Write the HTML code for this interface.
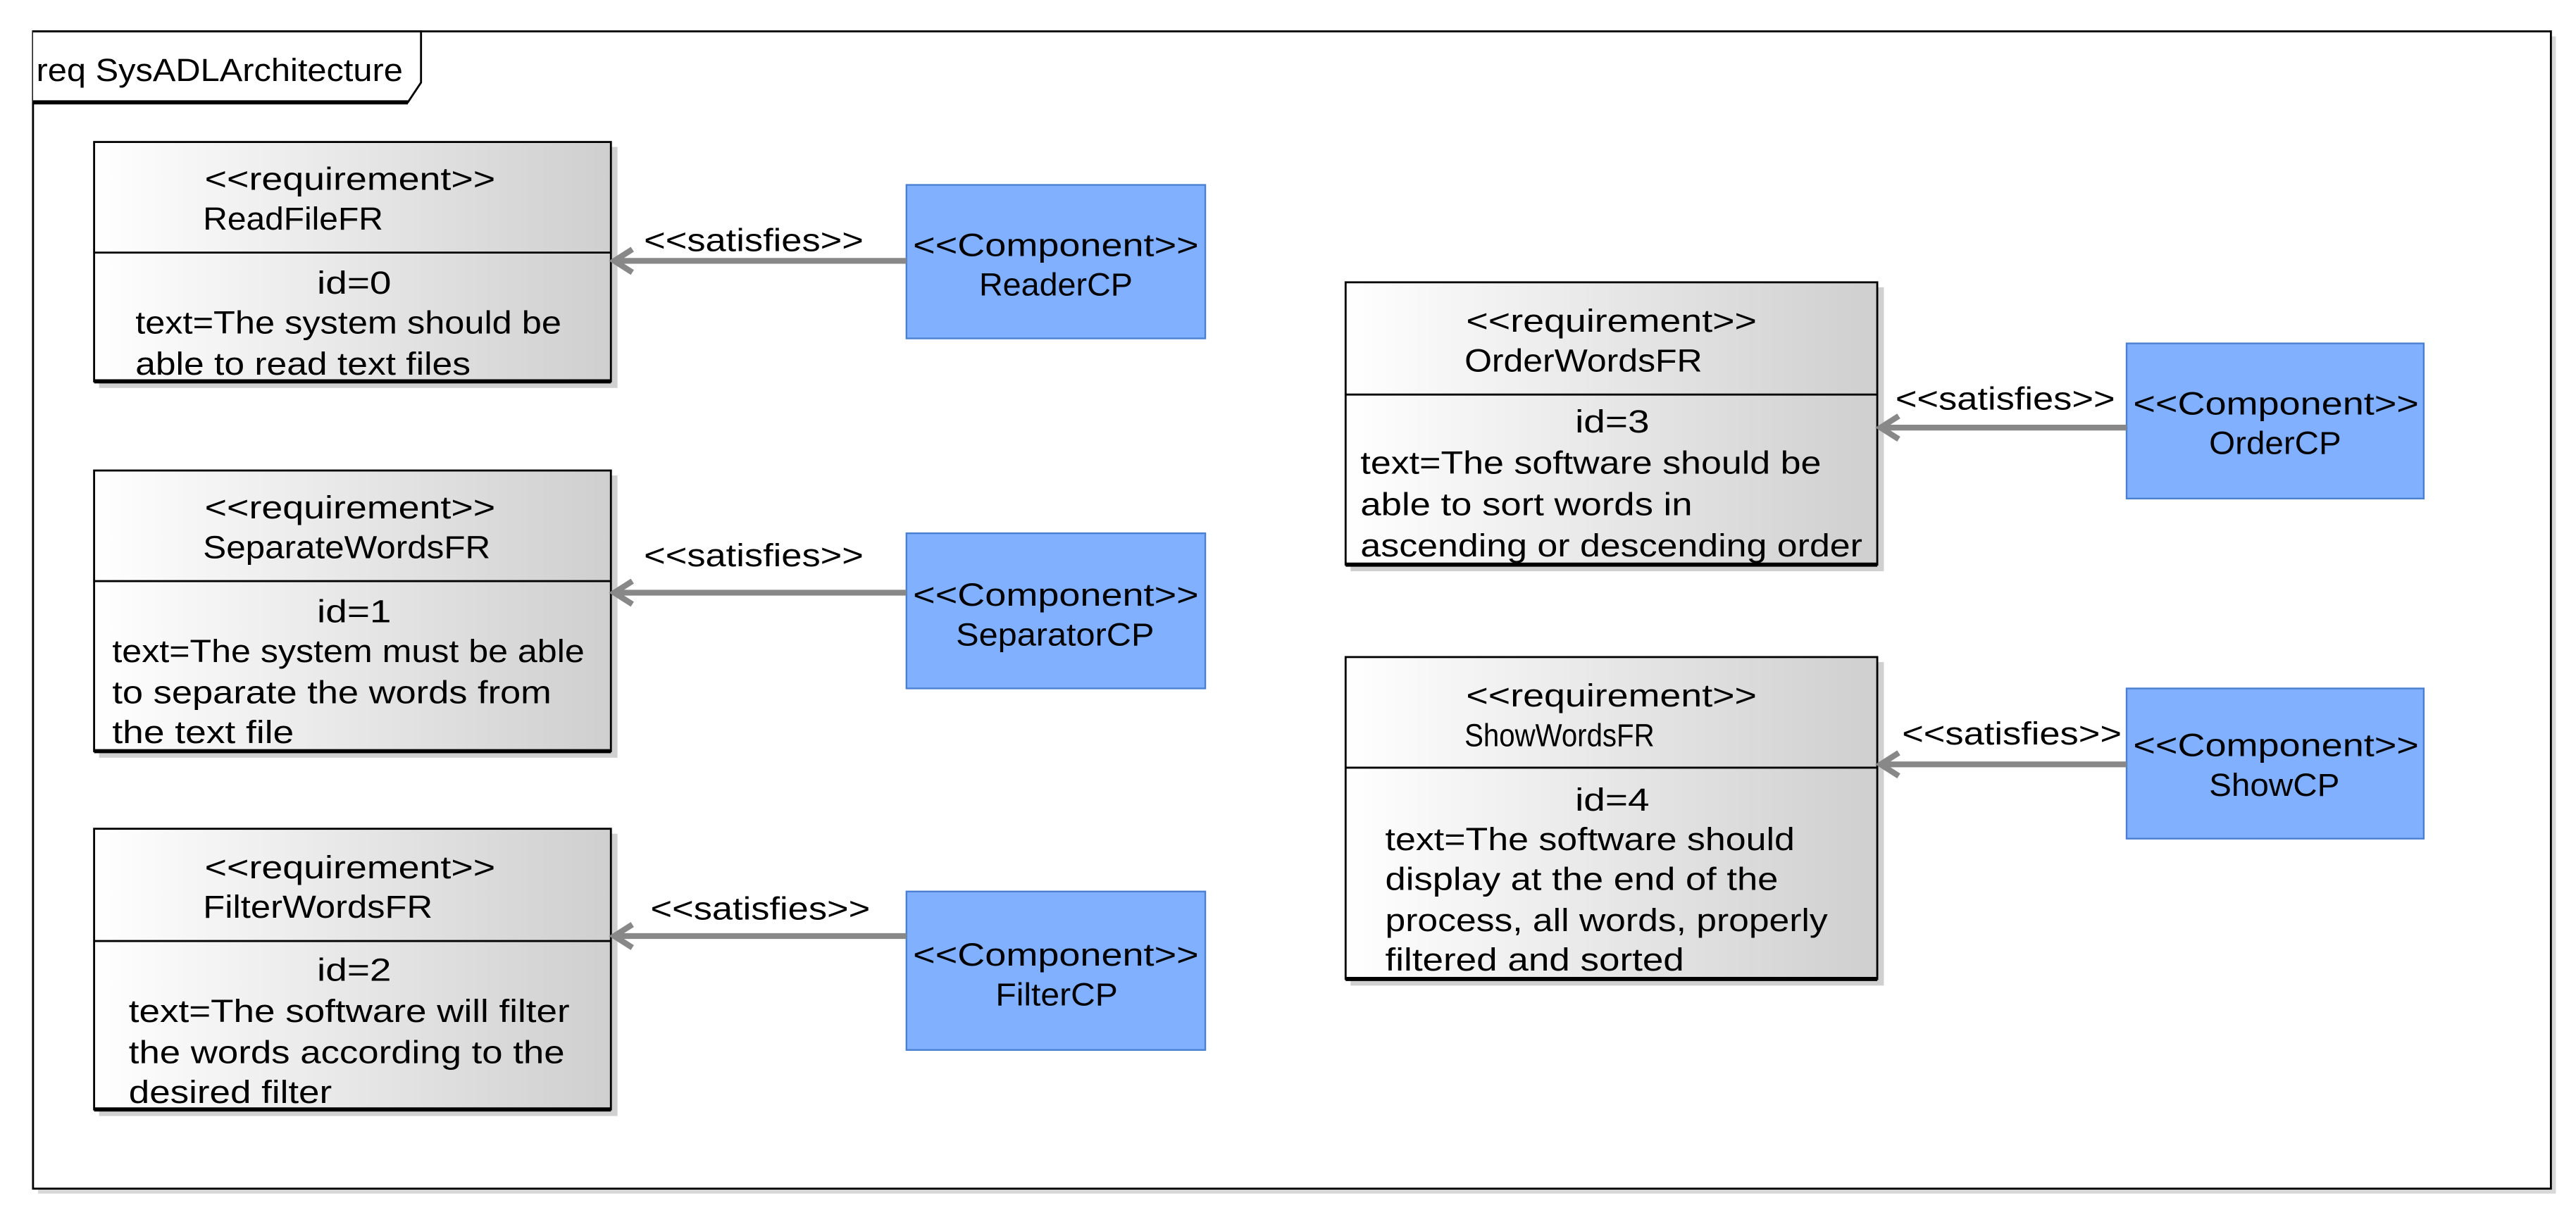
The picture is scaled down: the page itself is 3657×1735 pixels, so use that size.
<!DOCTYPE html>
<html><head><meta charset="utf-8"><style>
html,body{margin:0;padding:0;background:#fff;width:3657px;height:1735px;overflow:hidden}
svg{display:block}
text{font-family:"Liberation Sans",sans-serif;font-size:19.5px;fill:#000}
</style></head><body>
<svg width="3657" height="1735" viewBox="0 0 1560.2 740.2" preserveAspectRatio="none" xmlns="http://www.w3.org/2000/svg">
<defs>
<linearGradient id="g" x1="0" y1="0" x2="1" y2="0"><stop offset="0" stop-color="#ffffff"/><stop offset="1" stop-color="#cfcfcf"/></linearGradient>
</defs>
<rect width="1560.2" height="740.2" fill="#fff"/>
<rect x="23" y="22" width="1525" height="701" fill="#d8d8d8"/>
<rect x="20" y="19" width="1525" height="701" fill="#fff" stroke="#000" stroke-width="1.2"/>
<path d="M20 19 L255 19 L255 50 L247 62 L20 62" fill="#fff" stroke="#000" stroke-width="1.2"/>
<line x1="20" y1="62" x2="247" y2="62" stroke="#000" stroke-width="2.5"/>
<text x="22" y="49" font-size="20" textLength="222" lengthAdjust="spacingAndGlyphs">req SysADLArchitecture</text>

<g stroke="#000">
<g fill="#d0d0d0" stroke="none">
<rect x="60" y="89" width="314" height="146"/>
<rect x="60" y="288" width="314" height="171"/>
<rect x="60" y="505" width="314" height="171"/>
<rect x="818" y="174" width="323" height="172"/>
<rect x="818" y="401" width="323" height="196"/>
</g>
<rect x="57" y="86" width="313" height="145" fill="url(#g)" stroke-width="1.2"/>
<line x1="57" y1="153" x2="370" y2="153" stroke-width="1.2"/>
<line x1="57" y1="231" x2="370" y2="231" stroke-width="2.5"/>
<rect x="57" y="285" width="313" height="170" fill="url(#g)" stroke-width="1.2"/>
<line x1="57" y1="352" x2="370" y2="352" stroke-width="1.2"/>
<line x1="57" y1="455" x2="370" y2="455" stroke-width="2.5"/>
<rect x="57" y="502" width="313" height="170" fill="url(#g)" stroke-width="1.2"/>
<line x1="57" y1="570" x2="370" y2="570" stroke-width="1.2"/>
<line x1="57" y1="672" x2="370" y2="672" stroke-width="2.5"/>
<rect x="815" y="171" width="322" height="171" fill="url(#g)" stroke-width="1.2"/>
<line x1="815" y1="239" x2="1137" y2="239" stroke-width="1.2"/>
<line x1="815" y1="342" x2="1137" y2="342" stroke-width="2.5"/>
<rect x="815" y="398" width="322" height="195" fill="url(#g)" stroke-width="1.2"/>
<line x1="815" y1="465" x2="1137" y2="465" stroke-width="1.2"/>
<line x1="815" y1="593" x2="1137" y2="593" stroke-width="2.5"/>
</g>
<g fill="#80b0ff" stroke="#4a7fd0" stroke-width="1">
<rect x="549" y="112" width="181" height="93"/>
<rect x="549" y="323" width="181" height="94"/>
<rect x="549" y="540" width="181" height="96"/>
<rect x="1288" y="208" width="180" height="94"/>
<rect x="1288" y="417" width="180" height="91"/>
</g>
<g stroke="#888" stroke-width="3.5" fill="none">
<line x1="372" y1="158" x2="549" y2="158"/><path d="M383 151 L372 158 L383 165"/>
<line x1="372" y1="359" x2="549" y2="359"/><path d="M383 352 L372 359 L383 366"/>
<line x1="372" y1="567" x2="549" y2="567"/><path d="M383 560 L372 567 L383 574"/>
<line x1="1139" y1="259" x2="1288" y2="259"/><path d="M1150 252 L1139 259 L1150 266"/>
<line x1="1139" y1="463" x2="1288" y2="463"/><path d="M1150 456 L1139 463 L1150 470"/>
</g>
<g>
<text x="390" y="152" textLength="133" lengthAdjust="spacingAndGlyphs">&lt;&lt;satisfies&gt;&gt;</text>
<text x="390" y="343" textLength="133" lengthAdjust="spacingAndGlyphs">&lt;&lt;satisfies&gt;&gt;</text>
<text x="394" y="557" textLength="133" lengthAdjust="spacingAndGlyphs">&lt;&lt;satisfies&gt;&gt;</text>
<text x="1148" y="248" textLength="133" lengthAdjust="spacingAndGlyphs">&lt;&lt;satisfies&gt;&gt;</text>
<text x="1152" y="451" textLength="133" lengthAdjust="spacingAndGlyphs">&lt;&lt;satisfies&gt;&gt;</text>

<text x="553" y="155" textLength="173" lengthAdjust="spacingAndGlyphs">&lt;&lt;Component&gt;&gt;</text>
<text x="593" y="179" textLength="93" lengthAdjust="spacingAndGlyphs">ReaderCP</text>
<text x="553" y="367" textLength="173" lengthAdjust="spacingAndGlyphs">&lt;&lt;Component&gt;&gt;</text>
<text x="579" y="391" textLength="120" lengthAdjust="spacingAndGlyphs">SeparatorCP</text>
<text x="553" y="585" textLength="173" lengthAdjust="spacingAndGlyphs">&lt;&lt;Component&gt;&gt;</text>
<text x="603" y="609" textLength="74" lengthAdjust="spacingAndGlyphs">FilterCP</text>
<text x="1292" y="251" textLength="173" lengthAdjust="spacingAndGlyphs">&lt;&lt;Component&gt;&gt;</text>
<text x="1338" y="275" textLength="80" lengthAdjust="spacingAndGlyphs">OrderCP</text>
<text x="1292" y="458" textLength="173" lengthAdjust="spacingAndGlyphs">&lt;&lt;Component&gt;&gt;</text>
<text x="1338" y="482" textLength="79" lengthAdjust="spacingAndGlyphs">ShowCP</text>

<text x="124" y="115" textLength="176" lengthAdjust="spacingAndGlyphs">&lt;&lt;requirement&gt;&gt;</text>
<text x="123" y="139" textLength="109" lengthAdjust="spacingAndGlyphs">ReadFileFR</text>
<text x="192" y="178" textLength="45" lengthAdjust="spacingAndGlyphs">id=0</text>
<text x="82" y="202" textLength="258" lengthAdjust="spacingAndGlyphs">text=The system should be</text>
<text x="82" y="227" textLength="203" lengthAdjust="spacingAndGlyphs">able to read text files</text>

<text x="124" y="314" textLength="176" lengthAdjust="spacingAndGlyphs">&lt;&lt;requirement&gt;&gt;</text>
<text x="123" y="338" textLength="174" lengthAdjust="spacingAndGlyphs">SeparateWordsFR</text>
<text x="192" y="377" textLength="45" lengthAdjust="spacingAndGlyphs">id=1</text>
<text x="68" y="401" textLength="286" lengthAdjust="spacingAndGlyphs">text=The system must be able</text>
<text x="68" y="426" textLength="266" lengthAdjust="spacingAndGlyphs">to separate the words from</text>
<text x="68" y="450" textLength="110" lengthAdjust="spacingAndGlyphs">the text file</text>

<text x="124" y="532" textLength="176" lengthAdjust="spacingAndGlyphs">&lt;&lt;requirement&gt;&gt;</text>
<text x="123" y="556" textLength="139" lengthAdjust="spacingAndGlyphs">FilterWordsFR</text>
<text x="192" y="594" textLength="45" lengthAdjust="spacingAndGlyphs">id=2</text>
<text x="78" y="619" textLength="267" lengthAdjust="spacingAndGlyphs">text=The software will filter</text>
<text x="78" y="644" textLength="264" lengthAdjust="spacingAndGlyphs">the words according to the</text>
<text x="78" y="668" textLength="123" lengthAdjust="spacingAndGlyphs">desired filter</text>

<text x="888" y="201" textLength="176" lengthAdjust="spacingAndGlyphs">&lt;&lt;requirement&gt;&gt;</text>
<text x="887" y="225" textLength="144" lengthAdjust="spacingAndGlyphs">OrderWordsFR</text>
<text x="954" y="262" textLength="45" lengthAdjust="spacingAndGlyphs">id=3</text>
<text x="824" y="287" textLength="279" lengthAdjust="spacingAndGlyphs">text=The software should be</text>
<text x="824" y="312" textLength="201" lengthAdjust="spacingAndGlyphs">able to sort words in</text>
<text x="824" y="337" textLength="304" lengthAdjust="spacingAndGlyphs">ascending or descending order</text>

<text x="888" y="428" textLength="176" lengthAdjust="spacingAndGlyphs">&lt;&lt;requirement&gt;&gt;</text>
<text x="887" y="452" textLength="115" lengthAdjust="spacingAndGlyphs">ShowWordsFR</text>
<text x="954" y="491" textLength="45" lengthAdjust="spacingAndGlyphs">id=4</text>
<text x="839" y="515" textLength="248" lengthAdjust="spacingAndGlyphs">text=The software should</text>
<text x="839" y="539" textLength="238" lengthAdjust="spacingAndGlyphs">display at the end of the</text>
<text x="839" y="564" textLength="268" lengthAdjust="spacingAndGlyphs">process, all words, properly</text>
<text x="839" y="588" textLength="181" lengthAdjust="spacingAndGlyphs">filtered and sorted</text>
</g>
</svg>
</body></html>
